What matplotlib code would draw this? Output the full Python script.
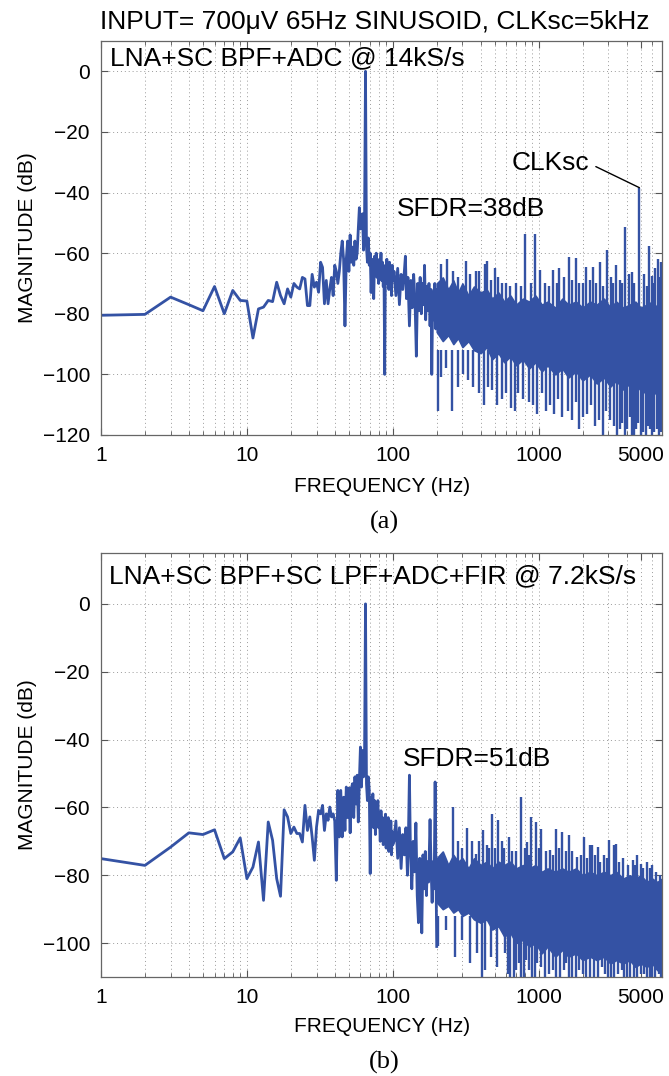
import numpy as np
import matplotlib.pyplot as plt
from matplotlib.ticker import LogLocator, NullFormatter

plt.rcParams['font.family'] = ['Liberation Sans', 'DejaVu Sans']

BLUE = '#3452a4'

# ---- panel (a): LNA+SC BPF+ADC @ 14kS/s ----
# explicit FFT bins, 1..100 Hz
fa_low = list(range(1, 101))
ma_low = [-80.5, -80.2, -74.5, -77, -79, -71, -80, -72.3, -75.6, -75.8,
          -88, -78.4, -77.8, -75.6, -76, -69.6, -74, -76.7, -71.8, -74.5,
          -70, -71.2, -71.8, -68, -68.5, -77.3, -77.3, -67, -71.2, -69.6,
          -72.9, -63, -64.7, -76.7, -69, -76.7, -71.8, -68, -74, -64,
          -66, -70, -66, -60, -56, -62, -84, -62, -56, -66,
          -54, -63, -58, -64, -56, -62, -60, -52, -45, -52,
          -50, -47, -59, -50, 0, -58, -63, -55, -64, -60,
          -73, -62, -66, -75, -61, -67, -60, -68, -64, -70,
          -62, -66, -60, -69, -63, -71, -66, -100, -64, -70,
          -62, -68, -64, -72, -63, -70, -65, -74, -64, -69]
fa_mid = [102, 105, 108, 111, 114, 117, 120, 122, 124, 127, 130, 133, 136, 139,
          142, 145, 148, 151, 154, 157, 160, 163, 165, 168, 171, 174, 177, 180,
          183, 185, 188, 191, 194, 197, 200]
ma_mid = [-66, -74, -65, -77, -67, -72, -66, -61, -75, -68, -84, -69, -78, -67,
          -76, -94, -70, -79, -68, -80, -70, -77, -64, -82, -71, -79, -70, -84,
          -72, -100, -73, -82, -70, -85, -72]

# dense noise floor above 200 Hz: upper / lower edge of the solid band
band_f = [200, 220, 240, 260, 280, 300, 330, 360, 400, 440, 480, 530, 580,
          640, 700, 780, 860, 950, 1050, 1150, 1300, 1450, 1600, 1800, 2000,
          2250, 2500, 2800, 3100, 3400, 3800, 4200, 4600, 5000, 5500, 6000,
          6500, 7000]
hi_a = [-70, -68, -72, -69, -73, -70, -74, -71, -73, -72, -75, -73, -76,
        -74, -77, -75, -76, -74, -77, -76, -78, -75, -77, -76, -78, -76,
        -77, -75, -78, -76, -78, -77, -76, -78, -77, -76, -78, -77]
lo_a = [-86, -89, -87, -90, -88, -91, -89, -92, -93, -91, -95, -93, -96,
        -94, -97, -95, -98, -96, -99, -97, -100, -98, -101, -99, -102, -100,
        -103, -101, -104, -102, -105, -103, -106, -104, -107, -105, -107, -106]

up_fa = [213, 236, 260, 280, 316, 340, 371, 390, 430, 443, 470, 500, 530, 558,
         600, 640, 700, 760, 811, 880, 939, 1016, 1100, 1180, 1253, 1330, 1377,
         1500, 1614, 1700, 1813, 1900, 2000, 2121, 2250, 2357, 2480, 2618,
         2750, 2941, 3150, 3250, 3366, 3600, 3750, 3882, 4150, 4356, 4500,
         4900, 5237, 5500, 5667, 5998, 6200, 6300, 6566, 6750, 6900]
up_ma = [-63.5, -62, -66, -68, -62.5, -67, -66, -66, -63.5, -62.5, -69, -65,
         -68, -70, -70, -71, -70, -71, -53.7, -70, -53.7, -65.7, -70, -71,
         -65.5, -70, -65, -68, -61.4, -69, -61.7, -70, -70, -64.5, -69, -64.5,
         -70, -63, -71, -59, -68, -70, -64, -69, -70, -51.5, -67, -66.3, -70,
         -38.4, -67, -71, -57.5, -67.5, -70, -65, -62, -68, -63]
dn_fa = [205, 213, 230, 253, 280, 305, 330, 356, 390, 420, 450, 480, 520, 560,
         600, 650, 690, 720, 780, 860, 920, 980, 1050, 1120, 1200, 1280, 1350,
         1450, 1600, 1700, 1800, 1900, 2000, 2150, 2300, 2450, 2600, 2750,
         2900, 3100, 3300, 3450, 3600, 3750, 3900, 4050, 4200, 4350, 4500,
         4650, 4800, 5000, 5200, 5400, 5600, 5800, 6000, 6200, 6500, 6700, 6900]
dn_ma = [-112, -101, -98, -112, -104, -100, -102, -104, -106, -110, -104, -105,
         -110, -108, -106, -111, -112, -106, -108, -109, -110, -113, -106, -112,
         -110, -113, -108, -114, -112, -115, -109, -118, -114, -113, -110, -117,
         -115, -120, -112, -115, -117, -120, -118, -116, -120, -118, -114, -120,
         -120, -118, -116, -120, -119, -120, -117, -118, -120, -119, -118, -120,
         -119]

# ---- panel (b): LNA+SC BPF+SC LPF+ADC+FIR @ 7.2kS/s ----
fb_low = list(range(1, 101))
mb_low = [-75.1, -77.1, -71.7, -67.5, -68, -66.6, -75.1, -73.1, -69, -81,
          -77.6, -70.2, -87.4, -64.3, -69.7, -81, -86.2, -60.7, -62.8, -67.7,
          -65.8, -67.7, -67.7, -70.2, -59.4, -66.8, -62.8, -68.7, -75.6, -65.8,
          -60.9, -61.9, -59.4, -66.8, -61.9, -63.8, -59.9, -62.8, -61.9, -64,
          -81.5, -55, -68.7, -55, -68.7, -57, -66.8, -54, -63, -54.3,
          -67.5, -54.3, -53, -63, -51, -59, -50.5, -64.3, -52, -42.2,
          -54, -43.2, -51, -46, 0, -53, -58, -51, -55, -79.5,
          -57, -62.8, -56, -66, -58, -68, -60, -64, -58, -66,
          -62, -70, -61, -67, -63, -71, -64, -68, -62, -72,
          -65, -69, -63, -73, -66, -70, -64, -74, -67, -71]
fb_mid = [102, 105, 108, 111, 114, 117, 120, 123, 126, 128, 130, 132, 135, 138,
          141, 144, 147, 150, 153, 156, 158, 161, 164, 167, 170, 173, 176, 180,
          183, 186, 189, 192, 195, 198, 200]
mb_mid = [-70, -64, -75, -66, -78, -68, -74, -66, -80, -68, -50.5, -72, -84,
          -70, -79, -64.6, -86, -94, -75, -82, -97, -74, -84, -73, -86, -76,
          -82, -63.6, -78, -88, -76, -84, -52.5, -80, -101]

hi_b = [-75, -73, -77, -74, -76, -75, -78, -75, -77, -76, -78, -76, -77,
        -76, -78, -77, -78, -77, -79, -78, -79, -78, -79, -78, -80, -79,
        -80, -79, -80, -79, -81, -80, -81, -80, -82, -81, -82, -81]
lo_b = [-88, -90, -89, -91, -90, -92, -91, -93, -94, -93, -96, -95, -98,
        -97, -100, -99, -101, -100, -103, -101, -104, -102, -104, -103, -105,
        -104, -105, -104, -106, -105, -106, -105, -107, -106, -107, -106,
        -108, -107]

up_fb = [260, 280, 300, 325, 350, 370, 390, 415, 440, 455, 479, 500, 526,
         560, 580, 623, 660, 700, 753, 800, 832, 860, 891, 964, 1000, 1043,
         1120, 1190, 1250, 1307, 1380, 1445, 1550, 1614, 1700, 1830, 1950,
         2040, 2150, 2235, 2330, 2450, 2548, 2650, 2800, 2950, 3033, 3300,
         3405, 3550, 3800, 4100, 4428, 4600, 4700, 5000, 5200, 5500, 5800,
         6000, 6400, 6745]
up_mb = [-60, -70, -72, -66, -70, -73.6, -70, -66.8, -71, -72, -61.9, -72,
         -63.8, -70, -72, -68.7, -73, -73, -57, -72, -70.2, -74, -62.8, -64.3,
         -72, -66.3, -73, -72.7, -74, -66.3, -72, -67.3, -73, -68.2, -73,
         -74.6, -74, -68.7, -75, -71.2, -71, -74, -71.7, -76, -74, -75, -69.7,
         -71, -70.7, -76, -75, -77, -75.6, -77, -74, -76.6, -78, -76, -78, -77,
         -79, -80]
dn_fb = [205, 230, 265, 300, 340, 380, 410, 430, 470, 520, 590, 620, 640,
         680, 700, 730, 760, 790, 820, 860, 900, 940, 980, 1030, 1100, 1180,
         1250, 1320, 1400, 1480, 1550, 1620, 1700, 1800, 1900, 2000, 2100,
         2250, 2400, 2550, 2700, 2850, 3000, 3150, 3300, 3500, 3700, 3850,
         4000, 4250, 4500, 4750, 5000, 5250, 5500, 5750, 6000, 6250, 6500,
         6700, 6900]
dn_mb = [-101, -96, -104, -99, -106, -103, -110, -108, -104, -107, -103, -109,
         -110, -110, -108, -106, -110, -110, -105, -108, -110, -110, -106,
         -107, -110, -109, -108, -110, -110, -108, -106, -110, -110, -110,
         -108, -109, -110, -110, -110, -110, -107, -109, -110, -110, -110,
         -109, -108, -110, -110, -110, -110, -110, -109, -109, -110, -110,
         -110, -110, -108, -109, -110]

xt = [1, 10, 100, 1000, 5000]
xt_labels = ['1', '10', '100', '1000', '5000']

fig = plt.figure(figsize=(6.69, 10.76), dpi=100)
W, H = 669, 1076
ax_a = fig.add_axes([101 / W, 1 - 435 / H, 561 / W, 394 / H])
ax_b = fig.add_axes([101 / W, 1 - 977 / H, 561 / W, 424 / H])


def draw(ax, f1, m1, f2, m2, hi, lo, uf, um, df, dm, ylim, yt):
    ax.plot(f1 + f2, m1 + m2, color=BLUE, lw=2.0, zorder=3)
    ax.fill_between(band_f, lo, hi, color=BLUE, lw=1.2, edgecolor=BLUE, zorder=3)
    ax.vlines(uf, -86, um, color=BLUE, lw=1.7, zorder=3)
    ax.vlines(df, -92, dm, color=BLUE, lw=1.7, zorder=3)
    ax.set_xscale('log')
    ax.set_xlim(1, 7000)
    ax.set_ylim(*ylim)
    ax.set_xticks(xt)
    ax.set_xticklabels(xt_labels)
    ax.xaxis.set_minor_locator(LogLocator(base=10, subs=np.arange(2, 10)))
    ax.xaxis.set_minor_formatter(NullFormatter())
    ax.set_yticks(yt)
    ax.grid(True, which='both', axis='x', color='#9a9a9a', lw=0.7, ls=(0, (1, 3)))
    ax.grid(True, which='major', axis='y', color='#9a9a9a', lw=0.7, ls=(0, (1, 3)))
    ax.tick_params(which='both', direction='in', top=True, right=True,
                   colors='#555555', labelcolor='black', labelsize=15)
    ax.tick_params(which='major', length=5, pad=8)
    ax.tick_params(which='minor', length=3)
    for s in ax.spines.values():
        s.set_color('#666666')
        s.set_linewidth(0.9)
        s.set_zorder(4)


draw(ax_a, fa_low, ma_low, fa_mid, ma_mid, hi_a, lo_a, up_fa, up_ma, dn_fa, dn_ma,
     (-120, 10), [-120, -100, -80, -60, -40, -20, 0])
draw(ax_b, fb_low, mb_low, fb_mid, mb_mid, hi_b, lo_b, up_fb, up_mb, dn_fb, dn_mb,
     (-110, 15), [-100, -80, -60, -40, -20, 0])

TS = 19
fig.text(375 / W, 1 - 29 / H, 'INPUT= 700\u03bcV 65Hz SINUSOID, CLKsc=5kHz',
         ha='center', va='baseline', fontsize=TS)
fig.text(110 / W, 1 - 65 / H, 'LNA+SC BPF+ADC @ 14kS/s', ha='left', va='baseline', fontsize=TS)
fig.text(397 / W, 1 - 216 / H, 'SFDR=38dB', ha='left', va='baseline', fontsize=TS)
ax_a.annotate('CLKsc', xy=(4900, -38.4), xytext=(512 / W, 1 - 170 / H),
              textcoords='figure fraction', ha='left', va='baseline', fontsize=TS,
              arrowprops=dict(arrowstyle='-', color='black', lw=1,
                              shrinkA=0, shrinkB=0, relpos=(1.08, 0.35)))
fig.text(109 / W, 1 - 583 / H, 'LNA+SC BPF+SC LPF+ADC+FIR @ 7.2kS/s', ha='left',
         va='baseline', fontsize=TS)
fig.text(403 / W, 1 - 766 / H, 'SFDR=51dB', ha='left', va='baseline', fontsize=TS)

for yc, yl, yx, ylab in [(238, 487, 522, '(a)'), (765, 1027, 1062, '(b)')]:
    fig.text(28 / W, 1 - yc / H, 'MAGNITUDE (dB)', rotation=90, ha='center',
             va='center', fontsize=15)
    fig.text(382 / W, 1 - yl / H, 'FREQUENCY (Hz)', ha='center', va='center', fontsize=15)
    fig.text(384 / W, 1 - yx / H, ylab, ha='center', va='center', fontsize=19,
             family=['Liberation Serif', 'DejaVu Serif'])

fig.savefig('out.png', dpi=100)
